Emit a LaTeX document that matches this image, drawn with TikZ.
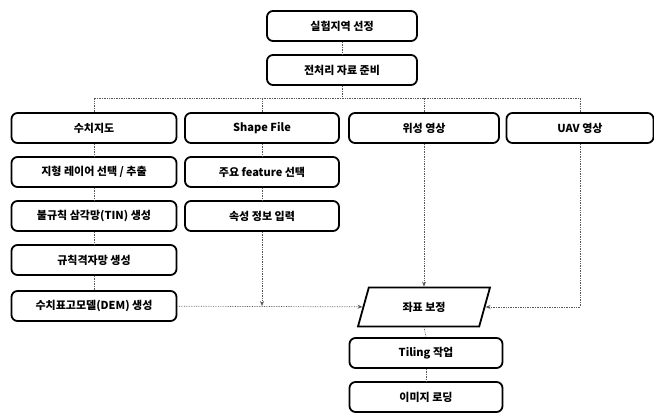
\documentclass[tikz,border=0pt]{standalone}
\usepackage{fontspec}
\setmainfont{Noto Sans CJK KR}
\usetikzlibrary{shapes.geometric,arrows.meta}
\begin{document}
\begin{tikzpicture}[x=1pt,y=-1pt,
box/.style={draw,line width=1.8pt,rounded corners=6pt,fill=white,minimum height=30pt,inner sep=2pt,font=\fontsize{11}{13}\selectfont\bfseries},
link/.style={densely dotted,black!65,line width=0.7pt},
arr/.style={link,-{Stealth[length=5pt,width=4pt]}}
]
\useasboundingbox (0,0) rectangle (654,414);
\node[box,minimum width=150pt] (site) at (342,26) {실험지역 선정};
\node[box,minimum width=150pt] (prep) at (342,70) {전처리 자료 준비};
\coordinate (split) at (342,98);
% 수치지도
\node[box,minimum width=165pt] (map) at (94,128) {수치지도};
\node[box,minimum width=165pt] (layer) at (94,172) {지형 레이어 선택 / 추출};
\node[box,minimum width=165pt] (tin) at (94,216) {불규칙 삼각망(TIN) 생성};
\node[box,minimum width=165pt] (grid) at (94,260) {규칙격자망 생성};
\node[box,minimum width=165pt] (dem) at (94,306) {수치표고모델(DEM) 생성};
% Shape File
\node[box,minimum width=154pt] (shp) at (262,128) {Shape File};
\node[box,minimum width=154pt] (feat) at (262,172) {주요 feature 선택};
\node[box,minimum width=154pt] (attr) at (262,216) {속성 정보 입력};
% 영상
\node[box,minimum width=150pt] (sat) at (424,128) {위성 영상};
\node[box,minimum width=147pt] (uav) at (580,128) {UAV 영상};
\node[box,trapezium,rounded corners=0pt,trapezium left angle=53,trapezium right angle=127,trapezium stretches body,minimum width=132pt,minimum height=39pt] (corr) at (424,307) {좌표 보정};
\node[box,minimum width=153pt] (tile) at (426,353) {Tiling 작업};
\node[box,minimum width=153pt] (load) at (426,397) {이미지 로딩};
\draw[link] (site) -- (prep);
\draw[link] (prep) -- (split);
\draw[link] (map) |- (split) -| (uav);
\draw[link] (shp.north) -- (shp.north |- split);
\draw[link] (sat.north) -- (sat.north |- split);
\draw[link] (map) -- (layer);
\draw[link] (layer) -- (tin);
\draw[link] (tin) -- (grid);
\draw[link] (grid) -- (dem);
\draw[link] (shp) -- (feat);
\draw[link] (feat) -- (attr);
\draw[arr] (attr) -- (attr |- dem);
\draw[arr] (dem) -- (corr);
\draw[arr] (sat) -- (corr);
\draw[arr] (uav) |- (corr);
\draw[link] (corr.south) -- (tile.north);
\draw[link] (tile) -- (load);
\end{tikzpicture}
\end{document}
